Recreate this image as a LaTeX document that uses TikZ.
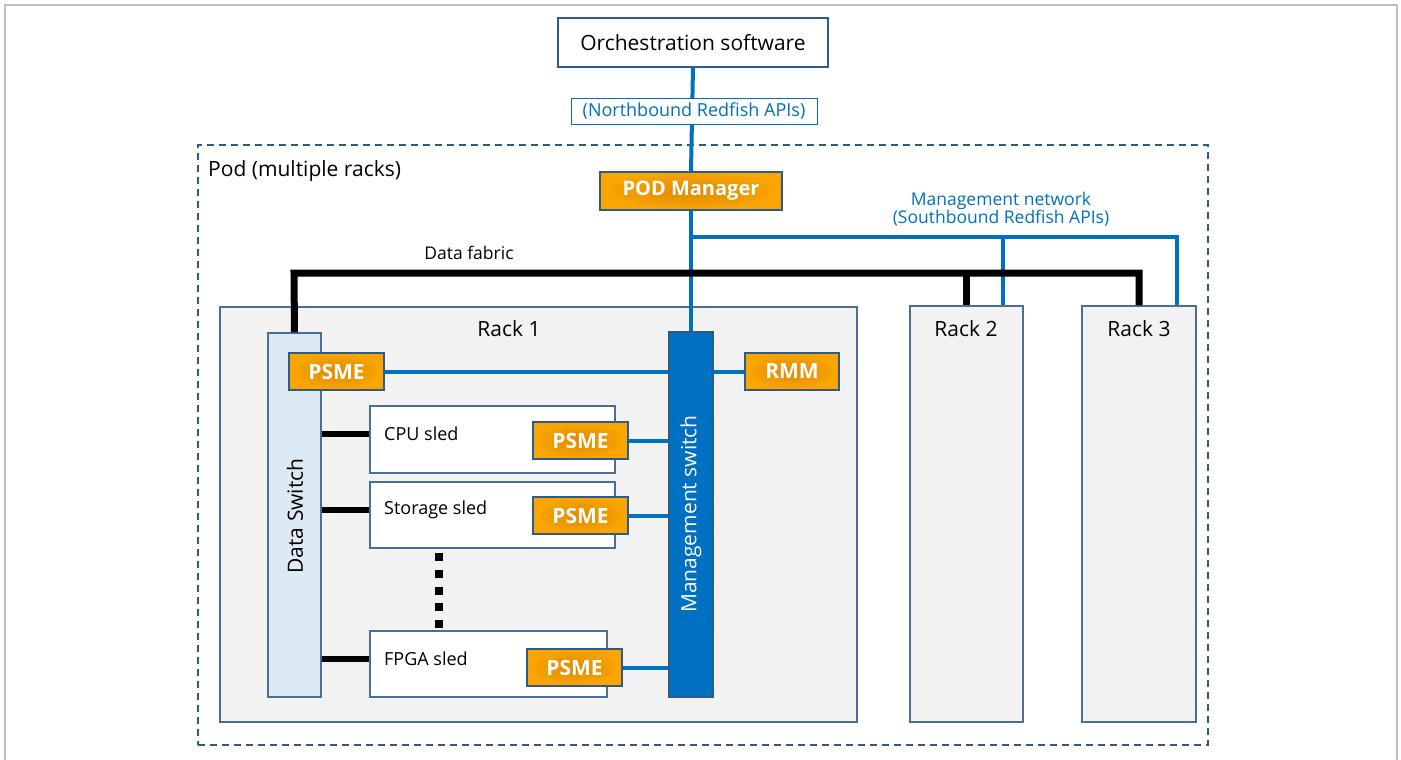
\documentclass[tikz,border=0pt]{standalone}
\usepackage{fontspec}
\setmainfont{Open Sans}
\definecolor{netblue}{HTML}{0070C0}
\definecolor{edgeblue}{HTML}{2E5B8A}
\definecolor{rackfill}{HTML}{F2F2F2}
\definecolor{rackedge}{HTML}{4A6F96}
\definecolor{dsfill}{HTML}{DEE9F6}
\definecolor{orgfill}{HTML}{FAA500}
\definecolor{orgdeep}{HTML}{E08A00}
\definecolor{framegray}{HTML}{C0C0C0}
\tikzset{
  box/.style={draw=edgeblue, line width=1.2pt, fill=white, inner sep=0pt},
  rackbox/.style={draw=rackedge, line width=1.4pt, fill=rackfill, inner sep=0pt},
  agent/.style={draw=edgeblue, line width=1.4pt, fill=orgfill, inner sep=0pt,
    text=white, font=\fontsize{21}{23}\selectfont\bfseries,
    path picture={\shade[inner color=orgdeep, outer color=orgfill]
      (path picture bounding box.center) ellipse [x radius=40, y radius=17];}},
  mgmt/.style={netblue, line width=4pt},
  data/.style={black, line width=7pt},
  lbl/.style={font=\fontsize{18}{21}\selectfont, inner sep=0pt},
  biglbl/.style={font=\fontsize{21}{24}\selectfont, inner sep=0pt},
  pod/.style={draw=edgeblue, line width=1.3pt, dash pattern=on 7pt off 5pt, inner sep=0pt},
  dotline/.style={black, line width=8pt, dash pattern=on 8pt off 8.75pt},
}
\begin{document}
\begin{tikzpicture}[x=1pt, y=-1pt]
\useasboundingbox (0,0) rectangle (1401,760);
% outer frame
\draw[framegray, line width=1.5pt] (5,761) -- (5,5) -- (1397,5) -- (1397,761);

% pod outline
\node[pod, minimum width=1010, minimum height=600] (podarea) at (703,445) {};
\node[biglbl, anchor=west] (podlabel) at (208,171) {Pod (multiple racks)};

% racks
\node[rackbox, minimum width=637, minimum height=415] (rack1) at (538.5,514.5) {};
\node[rackbox, minimum width=113, minimum height=416] (rack2) at (966.5,514) {};
\node[rackbox, minimum width=114, minimum height=416] (rack3) at (1139,514) {};
\node[biglbl] (rack1label) at (509,329) {Rack 1};
\node[biglbl] (rack2label) at (966,329) {Rack 2};
\node[biglbl] (rack3label) at (1139,329) {Rack 3};

% top level
\node[box, minimum width=270, minimum height=49, font=\fontsize{21}{24}\selectfont] (orch) at (693,42.5) {Orchestration software};
\node[agent, minimum width=182, minimum height=38, font=\fontsize{20}{22}\selectfont\bfseries,
  path picture={\shade[inner color=orgdeep, outer color=orgfill]
    (path picture bounding box.center) ellipse [x radius=80, y radius=17];}] (podmgr) at (691,191) {POD Manager};

% switches
\node[draw=rackedge, line width=1.2pt, fill=dsfill, minimum width=53, minimum height=364, inner sep=0pt] (dswitch) at (294.5,515) {};
\node[biglbl, rotate=90] (dswitchlabel) at (295,516) {Data Switch};
\node[draw=edgeblue, line width=1.2pt, fill=netblue, minimum width=44, minimum height=365, inner sep=0pt] (mswitch) at (691,514.5) {};
\node[biglbl, rotate=90, text=white] (mswitchlabel) at (691,514) {Management switch};

% sleds
\node[box, draw=rackedge, minimum width=245, minimum height=67] (cpu) at (492.5,439.5) {};
\node[box, draw=rackedge, minimum width=245, minimum height=66] (storage) at (492.5,515) {};
\node[box, draw=rackedge, minimum width=237, minimum height=66] (fpga) at (488.5,664) {};
\node[lbl, anchor=west] (cpulabel) at (384,434) {CPU sled};
\node[lbl, anchor=west] (storagelabel) at (384,510) {Storage sled};
\node[lbl, anchor=west] (fpgalabel) at (384,659) {FPGA sled};

% management network
\draw[mgmt] (orch.south) -- (podmgr.north);
\node[lbl, draw=netblue, line width=1pt, fill=white, text=netblue, minimum width=246, minimum height=25] (nblabel) at (694,111.5) {(Northbound Redfish APIs)};
\draw[mgmt] (podmgr.south) -- (mswitch.north);
\coordinate (mgmtsplit) at (692,237);
\coordinate (rack2mgmt) at ([xshift=36.5]rack2.north);
\coordinate (rack3mgmt) at ([xshift=38]rack3.north);
\draw[mgmt] (mgmtsplit) -| (rack3mgmt);
\draw[mgmt] (mgmtsplit -| rack2mgmt) -- (rack2mgmt);
\node[lbl, text=netblue, align=center, font=\fontsize{17.5}{18}\selectfont] (mgmtlabel) at (1001,209) {Management network\\(Southbound Redfish APIs)};

% data fabric
\coordinate (fabric) at (294,273);
\draw[data] (dswitch.north) -- (fabric) -| (rack3.north);
\draw[data] (fabric -| rack2.north) -- (rack2.north);
\node[lbl, font=\fontsize{17.5}{20}\selectfont] (fabriclabel) at (469,253) {Data fabric};

% rack 1 management agents
\node[agent, minimum width=95, minimum height=37] (psme0) at (336.5,371.5) {PSME};
\node[agent, minimum width=94, minimum height=37] (rmm) at (792,371.5) {RMM};
\node[agent, minimum width=95, minimum height=37] (psme1) at (580.5,440.5) {PSME};
\node[agent, minimum width=95, minimum height=37] (psme2) at (580.5,515.5) {PSME};
\node[agent, minimum width=95, minimum height=37] (psme3) at (574.5,667.5) {PSME};
\draw[mgmt] (psme0.east) -- (psme0.east -| mswitch.west);
\draw[mgmt] (mswitch.east |- rmm.west) -- (rmm.west);
\draw[mgmt] (psme1.east) -- (psme1.east -| mswitch.west);
\draw[mgmt] (psme2.east) -- (psme2.east -| mswitch.west);
\draw[mgmt] (psme3.east) -- (psme3.east -| mswitch.west);

% data links to sleds
\draw[data, line width=6pt] (dswitch.east |- cpulabel) -- (cpu.west |- cpulabel);
\draw[data, line width=6pt] (dswitch.east |- storagelabel) -- (storage.west |- storagelabel);
\draw[data, line width=6pt] (dswitch.east |- fpgalabel) -- (fpga.west |- fpgalabel);
\draw[dotline] (439,553) -- (439,630);
\end{tikzpicture}
\end{document}
